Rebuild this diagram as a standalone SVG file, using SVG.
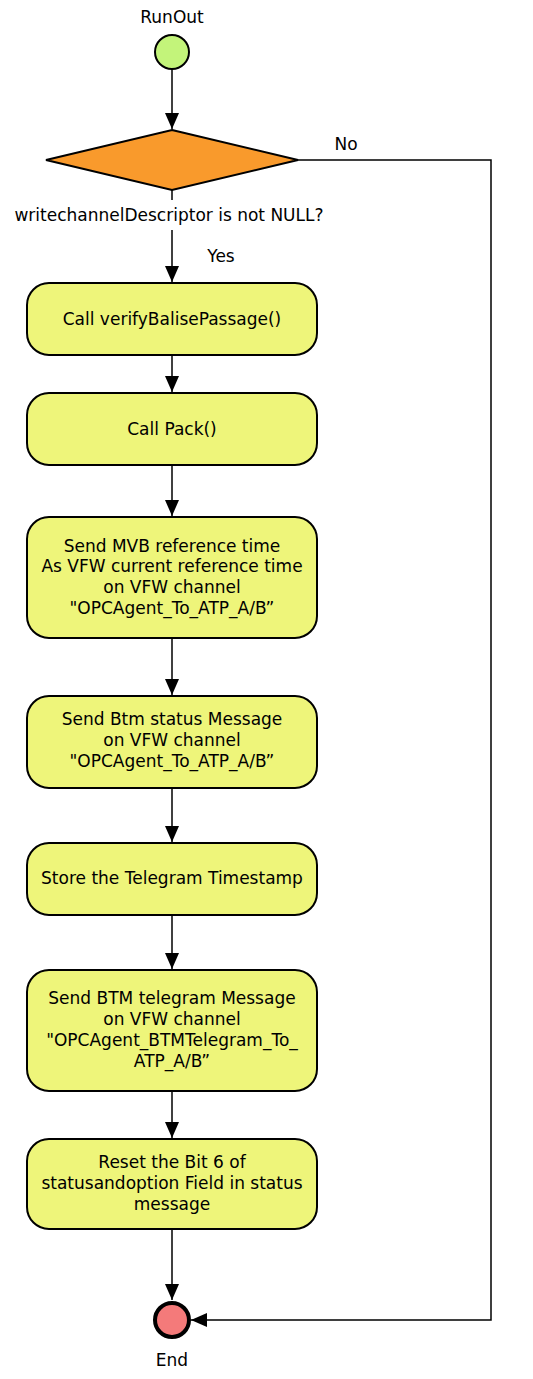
<svg xmlns="http://www.w3.org/2000/svg" width="533" height="1379" viewBox="0 0 533 1379">
<style>
text{font-family:"DejaVu Sans",Verdana,sans-serif;font-size:17px;fill:#000;text-anchor:middle}
.act{fill:#EEF57A;stroke:#000;stroke-width:2}
.edge{fill:none;stroke:#000;stroke-width:1.5}
</style>
<defs>
<marker id="ah" markerWidth="16" markerHeight="14" refX="16" refY="7" orient="auto" markerUnits="userSpaceOnUse">
<path d="M0,0 L16,7 L0,14 Z" fill="#000"/>
</marker>
</defs>
<rect width="533" height="1379" fill="#fff"/>
<g id="connectors">
<line class="edge" x1="172" y1="69" x2="172" y2="129" marker-end="url(#ah)"/>
<line class="edge" x1="172" y1="190" x2="172" y2="200"/>
<line class="edge" x1="172" y1="230" x2="172" y2="282" marker-end="url(#ah)"/>
<text x="221" y="262">Yes</text>
<polyline class="edge" points="298,160 491,160 491,1320 191,1320" marker-end="url(#ah)"/>
<text x="346" y="150">No</text>
<line class="edge" x1="172" y1="355" x2="172" y2="392" marker-end="url(#ah)"/>
<line class="edge" x1="172" y1="465" x2="172" y2="516" marker-end="url(#ah)"/>
<line class="edge" x1="172" y1="638" x2="172" y2="695" marker-end="url(#ah)"/>
<line class="edge" x1="172" y1="788" x2="172" y2="842" marker-end="url(#ah)"/>
<line class="edge" x1="172" y1="915" x2="172" y2="969" marker-end="url(#ah)"/>
<line class="edge" x1="172" y1="1091" x2="172" y2="1138" marker-end="url(#ah)"/>
<line class="edge" x1="172" y1="1229" x2="172" y2="1300" marker-end="url(#ah)"/>
</g>
<g id="start">
<circle cx="172" cy="52" r="17" fill="#C3F47A" stroke="#000" stroke-width="2"/>
<text x="172" y="23">RunOut</text>
</g>
<g id="decision">
<polygon points="172,130 298,160 172,190 46,160" fill="#F99A2C" stroke="#000" stroke-width="2"/>
<text x="169" y="221">writechannelDescriptor is not NULL?</text>
</g>
<g id="n1">
<rect class="act" x="27" y="283" width="290" height="72" rx="22"/>
<text x="172" y="325">Call verifyBalisePassage()</text>
</g>
<g id="n2">
<rect class="act" x="27" y="393" width="290" height="72" rx="22"/>
<text x="172" y="435">Call Pack()</text>
</g>
<g id="n3">
<rect class="act" x="27" y="517" width="290" height="121" rx="22"/>
<text x="172" y="552">Send MVB reference time</text>
<text x="172" y="572">As VFW current reference time</text>
<text x="172" y="593">on VFW channel</text>
<text x="172" y="614">"OPCAgent_To_ATP_A/B”</text>
</g>
<g id="n4">
<rect class="act" x="27" y="696" width="290" height="92" rx="22"/>
<text x="172" y="725">Send Btm status Message</text>
<text x="172" y="746">on VFW channel</text>
<text x="172" y="767">"OPCAgent_To_ATP_A/B”</text>
</g>
<g id="n5">
<rect class="act" x="27" y="843" width="290" height="72" rx="22"/>
<text x="172" y="884">Store the Telegram Timestamp</text>
</g>
<g id="n6">
<rect class="act" x="27" y="970" width="290" height="121" rx="22"/>
<text x="172" y="1004">Send BTM telegram Message</text>
<text x="172" y="1025">on VFW channel</text>
<text x="172" y="1046">"OPCAgent_BTMTelegram_To_</text>
<text x="172" y="1067">ATP_A/B”</text>
</g>
<g id="n7">
<rect class="act" x="27" y="1139" width="290" height="90" rx="22"/>
<text x="172" y="1168">Reset the Bit 6 of</text>
<text x="172" y="1189">statusandoption Field in status</text>
<text x="172" y="1210">message</text>
</g>
<g id="end">
<circle cx="172" cy="1320" r="17" fill="#F47A7A" stroke="#000" stroke-width="4"/>
<text x="172" y="1366">End</text>
</g>
</svg>
